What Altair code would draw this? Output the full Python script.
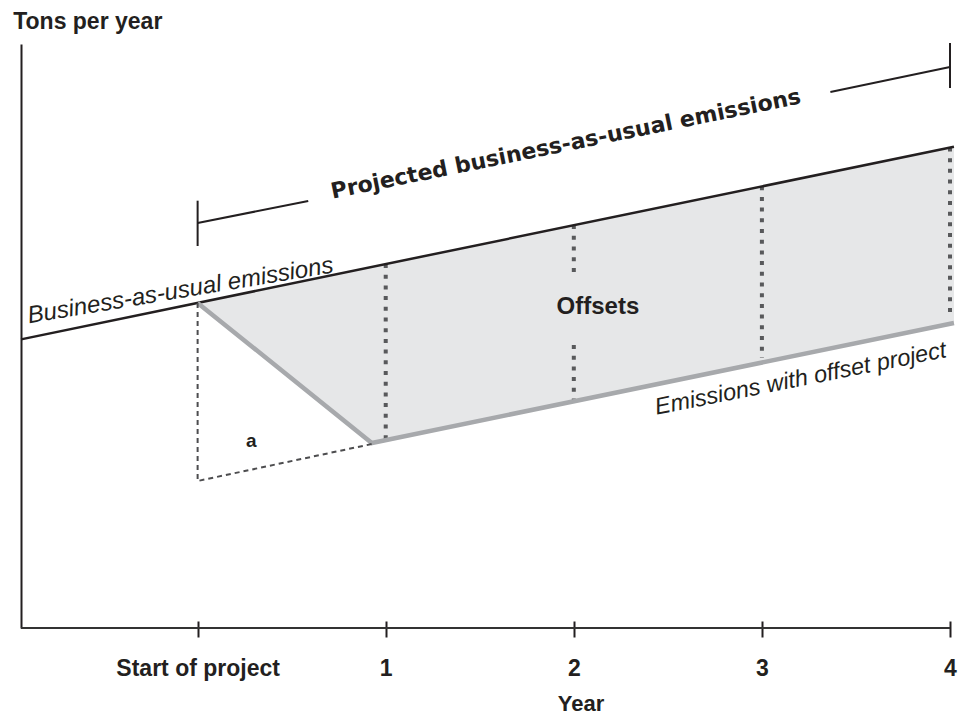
import json
import altair as alt
import pandas as pd

# ---------------- data ----------------
tick_values = [0, 1, 2, 3, 4]
tick_labels = ["Start of project", "1", "2", "3", "4"]

x_domain = [-0.939, 4.0]
y_domain = [0, 100]

# business-as-usual emissions (straight line)
bau_x = [-0.939, 4.021]
bau_y = [49.42, 82.41]

# emissions with offset project
proj_x = [0.0, 0.926, 4.021]
proj_y = [55.67, 31.68, 52.23]
# business-as-usual value at the same x (top of the offsets area)
area_top = [55.67, 61.84, 82.41]

# dashed triangle "a"
tri_x = [0.0, 0.0, 0.926]
tri_y = [55.67, 25.17, 31.5]
tri_order = [0, 1, 2]

# dotted verticals (offsets per year)
dot_x = [1, 2, 2, 3, 4]
dot_top = [62.33, 68.99, 48.46, 75.65, 82.29]
dot_bot = [32.17, 60.96, 38.81, 46.23, 53.77]

# bracket for "Projected business-as-usual emissions"
br_x = [0, 0, 3.364, 4]
br_x2 = [0, 0.588, 4, 4]
br_y = [73.17, 69.35, 91.78, 100.17]
br_y2 = [65.41, 73.12, 96.06, 92.47]

# horizontal axis line
axis_x = [-0.939]
axis_x2 = [4.0]
axis_y = [0]

# annotations
ann_text = ["Projected business-as-usual emissions", "Business-as-usual emissions",
            "Emissions with offset project", "Offsets", "a"]
ann_x = [1.965, -0.085, 3.213, 2.128, 0.285]
ann_y = [81.68, 56.54, 41.46, 53.77, 31.04]
ann_angle = [348.5, 350.5, 348.75, 0, 0]

INK = "#231f20"

# ---------------- encodings ----------------
xscale = alt.Scale(domain=x_domain, nice=False, zero=False)
yscale = alt.Scale(domain=y_domain, nice=False, zero=False)

label_expr = json.dumps(tick_labels) + "[datum.value]"

xaxis = alt.Axis(
    values=tick_values, labelExpr=label_expr, title="Year",
    domain=False, grid=False, ticks=True, tickSize=16, tickWidth=2, tickColor=INK,
    offset=-7, labelFont="Liberation Sans", labelFontSize=23, labelFontWeight="bold",
    labelColor=INK, labelPadding=38, labelBaseline="alphabetic", labelFlush=False,
    labelOverlap=False, titleFont="Liberation Sans", titleFontSize=22,
    titleFontWeight="bold", titleColor=INK, titleX=559.5, titleY=89,
    titleBaseline="alphabetic", titleAlign="center",
)
yaxis = alt.Axis(
    title="Tons per year", domain=True, domainColor=INK, domainWidth=2,
    ticks=False, labels=False, grid=False, titleAngle=0, titleX=-8.3, titleY=-16,
    titleAlign="left", titleBaseline="alphabetic", titleFont="Liberation Sans",
    titleFontSize=23, titleFontWeight="bold", titleColor=INK,
)


def X(f):
    return alt.X(f, type="quantitative", scale=xscale, axis=xaxis)


def Y(f):
    return alt.Y(f, type="quantitative", scale=yscale, axis=yaxis)


# ---------------- layers ----------------
area_df = pd.DataFrame({"x": proj_x, "top": area_top, "bot": proj_y})
area = alt.Chart(area_df).mark_area(color="#e6e7e8", opacity=1).encode(
    x=X("x"), y=Y("top"), y2=alt.Y2("bot")
)

dot_df = pd.DataFrame({"x": dot_x, "top": dot_top, "bot": dot_bot})
dots = alt.Chart(dot_df).mark_rule(
    color="#58595b", strokeWidth=4, strokeDash=[4, 6.7], strokeCap="butt"
).encode(x=X("x"), y=Y("top"), y2=alt.Y2("bot"))

bau_df = pd.DataFrame({"x": bau_x, "y": bau_y})
bau = alt.Chart(bau_df).mark_line(color=INK, strokeWidth=2.5).encode(x=X("x"), y=Y("y"))

proj_df = pd.DataFrame({"x": proj_x, "y": proj_y})
proj = alt.Chart(proj_df).mark_line(color="#a7a9ac", strokeWidth=4.5, strokeJoin="miter").encode(
    x=X("x"), y=Y("y")
)

tri_df = pd.DataFrame({"x": tri_x, "y": tri_y, "o": tri_order})
tri = alt.Chart(tri_df).mark_line(color="#4d4d4f", strokeWidth=2, strokeDash=[5, 4]).encode(
    x=X("x"), y=Y("y"), order=alt.Order("o:Q")
)

br_df = pd.DataFrame({"x": br_x, "x2": br_x2, "y": br_y, "y2": br_y2})
brackets = alt.Chart(br_df).mark_rule(color=INK, strokeWidth=2).encode(
    x=X("x"), x2=alt.X2("x2"), y=Y("y"), y2=alt.Y2("y2")
)

ax_df = pd.DataFrame({"x": axis_x, "x2": axis_x2, "y": axis_y})
axis_line = alt.Chart(ax_df).mark_rule(color="#333333", strokeWidth=2).encode(
    x=X("x"), x2=alt.X2("x2"), y=Y("y")
)

styles = [
    dict(font="DejaVu Sans", fontSize=22, fontWeight="bold"),
    dict(font="Liberation Sans", fontSize=24, fontWeight="normal", fontStyle="italic"),
    dict(font="Liberation Sans", fontSize=23.5, fontWeight="normal", fontStyle="italic"),
    dict(font="Liberation Sans", fontSize=24, fontWeight="bold"),
    dict(font="Liberation Sans", fontSize=19, fontWeight="bold"),
]

texts = []
for t, xv, yv, ang, st in zip(ann_text, ann_x, ann_y, ann_angle, styles):
    df = pd.DataFrame({"x": [xv], "y": [yv], "t": [t]})
    texts.append(
        alt.Chart(df).mark_text(
            align="center", baseline="alphabetic", angle=ang, color=INK, **st
        ).encode(x=X("x"), y=Y("y"), text="t:N")
    )

chart = (
    alt.layer(area, dots, bau, proj, tri, brackets, axis_line, *texts)
    .properties(
        width=929, height=584,
        autosize=alt.AutoSizeParams(type="none"),
        padding={"left": 13, "top": 36, "right": 9, "bottom": 88},
    )
    .configure(font="Liberation Sans", background="white")
    .configure_view(stroke=None)
)

chart.save("out.html", embed_options={"renderer": "svg", "actions": False})
